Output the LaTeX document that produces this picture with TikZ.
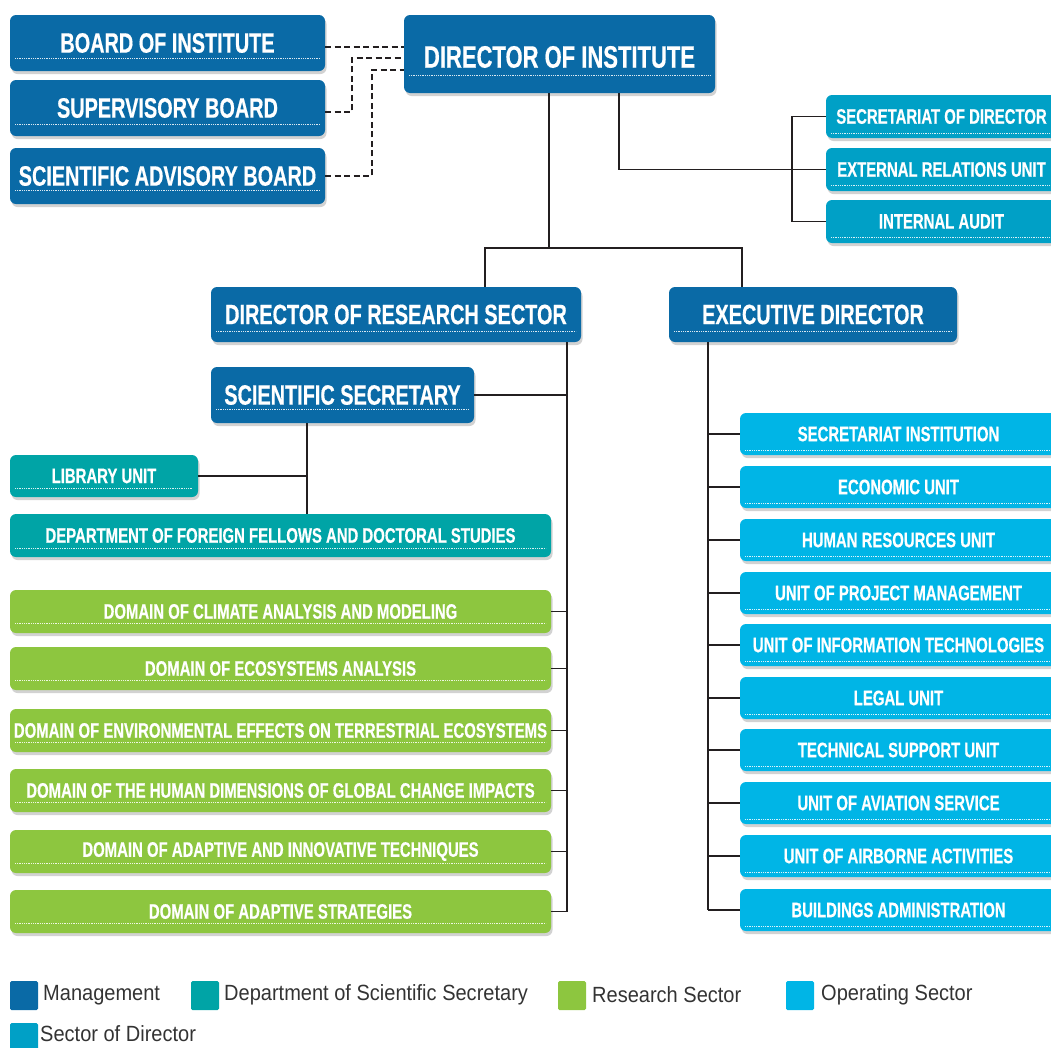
\documentclass[tikz,border=0pt]{standalone}
\usepackage{fontspec}
\newfontfamily\bxfont{Liberation Sans}[FakeStretch=0.71, FakeBold=0.5]
\newfontfamily\lgfont{Liberation Sans}[FakeStretch=0.91]
\usetikzlibrary{shadows,calc}
\definecolor{mgmt}{HTML}{0A6AA6}
\definecolor{dept}{HTML}{00A4A6}
\definecolor{rsch}{HTML}{8DC63F}
\definecolor{oper}{HTML}{00B5E6}
\definecolor{sdir}{HTML}{00A0C6}
\definecolor{lnk}{HTML}{231F20}
\definecolor{lgtxt}{HTML}{333333}
\tikzset{
  box/.style={rounded corners=6pt, inner sep=0pt, text=white, draw=none,
    drop shadow={opacity=0.25, fill=black!70, shadow xshift=1.5pt, shadow yshift=-3pt}},
  bigt/.style={font=\bxfont\bfseries\fontsize{31}{31}\selectfont},
  medt/.style={font=\bxfont\bfseries\fontsize{28}{28}\selectfont},
  smlt/.style={font=\bxfont\bfseries\fontsize{21}{21}\selectfont},
  dotln/.style={white, line width=0.8pt, dash pattern=on 0.9pt off 0.9pt, opacity=0.85},
  conn/.style={lnk, line width=1.3pt},
  dsh/.style={lnk, line width=1.3pt, dash pattern=on 6pt off 3.5pt},
  lgsq/.style={rounded corners=1.5pt},
  lgtx/.style={anchor=west, inner sep=0pt, text=lgtxt, font=\lgfont\fontsize{22}{22}\selectfont}
}
% #1 name, #2 style, #3 x1, #4 y1, #5 x2, #6 y2, #7 text, #8 y of dotted line
\newcommand\ubox[8]{%
  \node[box,#2,minimum width={(#5)-(#3)}, minimum height={(#6)-(#4)}] (#1) at ({((#3)+(#5))/2},{((#4)+(#6))/2}) {#7};
  \draw[dotln] ({(#3)+5},{#8}) -- ({(#5)-5},{#8});
}
\begin{document}
\begin{tikzpicture}[x=1pt,y=-1pt]
\path[use as bounding box] (0,0) rectangle (1051,1047);
\clip (0,0) rectangle (1051,1047);

% management
\ubox{brd}{fill=mgmt,medt}{10}{15}{325}{71}{BOARD OF INSTITUTE}{58}
\ubox{sup}{fill=mgmt,medt}{10}{80}{325}{136}{SUPERVISORY BOARD}{124}
\ubox{sab}{fill=mgmt,medt}{10}{148}{325}{204}{SCIENTIFIC ADVISORY BOARD}{190}
\ubox{dir}{fill=mgmt,bigt}{404}{15}{715}{93}{\raisebox{-3pt}[\height][\depth]{DIRECTOR OF INSTITUTE}}{75}
\ubox{rsd}{fill=mgmt,medt}{211}{287}{581}{342}{DIRECTOR OF RESEARCH SECTOR}{331}
\ubox{exd}{fill=mgmt,medt}{669}{287}{957}{342}{EXECUTIVE DIRECTOR}{331}
\ubox{ss}{fill=mgmt,medt}{211}{367}{474}{423}{SCIENTIFIC SECRETARY}{409}

% sector of director
\ubox{sec}{fill=sdir,smlt}{826}{95}{1057}{138}{SECRETARIAT OF DIRECTOR}{133}
\ubox{ext}{fill=sdir,smlt}{826}{148}{1057}{191}{EXTERNAL RELATIONS UNIT}{185}
\ubox{aud}{fill=sdir,smlt}{826}{200}{1057}{243}{INTERNAL AUDIT}{237}

% department of scientific secretary
\ubox{lib}{fill=dept,smlt}{10}{455}{198}{497}{LIBRARY UNIT}{488}
\ubox{dpt}{fill=dept,smlt}{10}{514}{551}{557}{DEPARTMENT OF FOREIGN FELLOWS AND DOCTORAL STUDIES}{548}

% research sector
\ubox{g1}{fill=rsch,smlt}{10}{590}{551}{633}{DOMAIN OF CLIMATE ANALYSIS AND MODELING}{623}
\ubox{g2}{fill=rsch,smlt}{10}{647}{551}{690}{DOMAIN OF ECOSYSTEMS ANALYSIS}{680}
\ubox{g3}{fill=rsch,smlt}{10}{709}{551}{752}{DOMAIN OF ENVIRONMENTAL EFFECTS ON TERRESTRIAL ECOSYSTEMS}{742}
\ubox{g4}{fill=rsch,smlt}{10}{769}{551}{812}{DOMAIN OF THE HUMAN DIMENSIONS OF GLOBAL CHANGE IMPACTS}{802}
\ubox{g5}{fill=rsch,smlt}{10}{830}{551}{873}{DOMAIN OF ADAPTIVE AND INNOVATIVE TECHNIQUES}{863}
\ubox{g6}{fill=rsch,smlt}{10}{890}{551}{933}{DOMAIN OF ADAPTIVE STRATEGIES}{923}

% operating sector
\ubox{o1}{fill=oper,smlt}{740}{413}{1057}{455}{SECRETARIAT INSTITUTION}{450}
\ubox{o2}{fill=oper,smlt}{740}{466}{1057}{508}{ECONOMIC UNIT}{503}
\ubox{o3}{fill=oper,smlt}{740}{519}{1057}{561}{HUMAN RESOURCES UNIT}{556}
\ubox{o4}{fill=oper,smlt}{740}{572}{1057}{614}{UNIT OF PROJECT MANAGEMENT}{609}
\ubox{o5}{fill=oper,smlt}{740}{624}{1057}{666}{UNIT OF INFORMATION TECHNOLOGIES}{661}
\ubox{o6}{fill=oper,smlt}{740}{677}{1057}{719}{LEGAL UNIT}{714}
\ubox{o7}{fill=oper,smlt}{740}{729}{1057}{771}{TECHNICAL SUPPORT UNIT}{766}
\ubox{o8}{fill=oper,smlt}{740}{782}{1057}{824}{UNIT OF AVIATION SERVICE}{819}
\ubox{o9}{fill=oper,smlt}{740}{835}{1057}{877}{UNIT OF AIRBORNE ACTIVITIES}{872}
\ubox{o10}{fill=oper,smlt}{740}{889}{1057}{931}{BUILDINGS ADMINISTRATION}{926}

% junction coordinates
\coordinate (jA) at (549,248);
\coordinate (jL) at (485,248);
\coordinate (jR) at (742,248);
\coordinate (jS) at (619,0);
\coordinate (jB) at (792,0);
\coordinate (jd1) at (352,58);
\coordinate (jd2) at (372,70);
\coordinate (jRs) at (567,0);
\coordinate (jSs) at (307,0);
\coordinate (jE) at (708,0);

% dashed board links
\draw[dsh] ([yshift=-4pt]brd.east) -- ([yshift=-4pt]brd.east -| dir.west);
\draw[dsh] ([yshift=-4pt]sup.east) -| (jd1) -- (jd1 -| dir.west);
\draw[dsh] (sab.east) -| (jd2) -- (jd2 -| dir.west);

% director links
\draw[conn] (jA |- dir.south) -- (jA);
\draw[conn] (jL |- rsd.north) -- (jL) -- (jR) -- (jR |- exd.north);
\draw[conn] (jS |- dir.south) -- (jS |- ext.west) -- (ext.west);
\draw[conn] (sec.west) -- (jB |- sec.west) -- (jB |- aud.west) -- (aud.west);

% research sector links
\draw[conn] (jRs |- rsd.south) -- (jRs |- g6.east);
\draw[conn] (ss.east) -- (ss.east -| jRs);
\foreach \g in {g1,g2,g3,g4,g5,g6}{\draw[conn] (\g.east) -- (\g.east -| jRs);}
\draw[conn] (jSs |- ss.south) -- (jSs |- dpt.north);
\draw[conn] (lib.east) -- (lib.east -| jSs);

% executive links
\draw[conn] (jE |- exd.south) -- (jE |- o10.west);
\foreach \o in {o1,o2,o3,o4,o5,o6,o7,o8,o9,o10}{\draw[conn] (\o.west) -- (\o.west -| jE);}

% legend
\fill[mgmt,lgsq] (10,981) rectangle (38,1010);
\node[lgtx] (l1) at (43,995) {Management};
\fill[dept,lgsq] (191,981) rectangle (219,1010);
\node[lgtx] (l2) at (224,995) {Department of Scientific Secretary};
\fill[rsch,lgsq] (558,981) rectangle (586,1010);
\node[lgtx] (l3) at (592,995) {Research Sector};
\fill[oper,lgsq] (786,981) rectangle (814,1010);
\node[lgtx] (l4) at (821,995) {Operating Sector};
\fill[sdir,lgsq] (10,1023) rectangle (38,1052);
\node[lgtx] (l5) at (40,1034) {Sector of Director};
\end{tikzpicture}
\end{document}
